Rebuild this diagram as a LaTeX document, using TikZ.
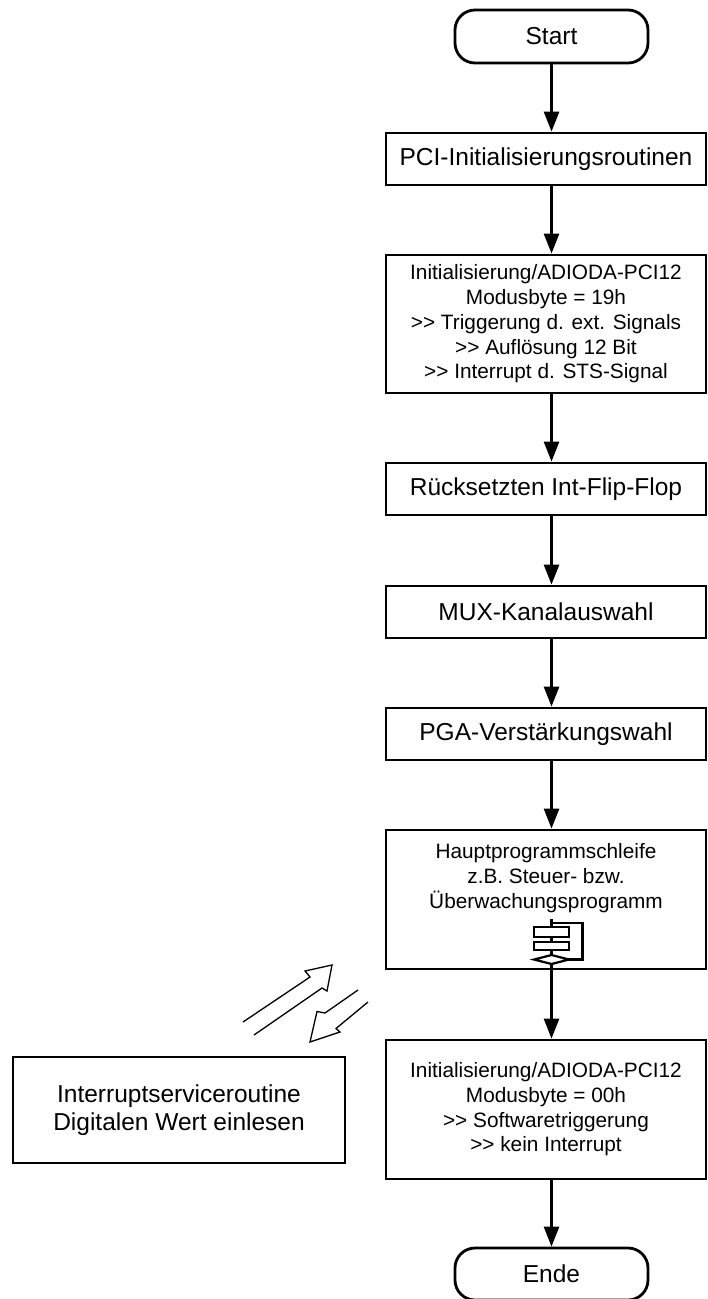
\documentclass[tikz,border=0pt]{standalone}
\usepackage{fontspec}
\setmainfont{Liberation Sans}
\usetikzlibrary{arrows.meta}
\begin{document}
\begin{tikzpicture}[x=1pt,y=-1pt,
  box/.style={draw, line width=2.8pt, rectangle, inner sep=0pt, align=center, minimum width=320pt, minimum height=52pt},
  term/.style={draw, line width=2.8pt, rounded corners=20pt, inner sep=0pt, minimum width=193pt, minimum height=53pt},
  big/.style={font=\fontsize{24.5}{28.5}\selectfont},
  small/.style={font=\fontsize{20.8}{24.7}\selectfont},
  arr/.style={line width=2.8pt, -{Triangle[length=20pt,width=15pt]}},
  hollow/.style={line width=1.3pt, line join=miter},
  icon/.style={line width=2.2pt},
]
\useasboundingbox (0,0) rectangle (708,1299);

\node[term, big] (start) at (551.5,36.5) {Start};
\node[box, big] (pci) at (546,159) {PCI-Initialisierungsroutinen};
\node[box, small, minimum height=138pt] (init1) at (546,324)
  {Initialisierung/ADIODA-PCI12\\Modusbyte = 19h\\>{}> Triggerung d. ext. Signals\\>{}> Aufl\"osung 12 Bit\\>{}> Interrupt d. STS-Signal};
\node[box, big] (reset) at (546,489) {R\"ucksetzten Int-Flip-Flop};
\node[box, big] (mux) at (546,612) {MUX-Kanalauswahl};
\node[box, big] (pga) at (546,734) {PGA-Verst\"arkungswahl};
\node[box, minimum height=139pt] (haupt) at (546,899.5) {};
\node[small, align=center, inner sep=0pt] (haupttext) at (546,878)
  {Hauptprogrammschleife\\z.B. Steuer- bzw.\\\"Uberwachungsprogramm};
\node[box, small, minimum height=139pt] (init2) at (546,1109.5)
  {Initialisierung/ADIODA-PCI12\\Modusbyte = 00h\\>{}> Softwaretriggerung\\>{}> kein Interrupt};
\node[term, big, minimum height=52pt] (ende) at (551.5,1274) {Ende};
\node[box, big, align=center, minimum width=332pt, minimum height=106pt] (isr) at (179,1110)
  {Interruptserviceroutine\\Digitalen Wert einlesen};

% loop icon
\coordinate (itop) at (551.5,919);
\draw[icon] (534,927) rectangle (569,937);
\draw[icon] (534,942) rectangle (569,950);
\draw[icon] (534,959.5) -- (551.5,955) -- (569,959.5) -- (551.5,964) -- cycle;
\draw[icon] (itop) -- (551.5,927) (551.5,937) -- (551.5,942) (551.5,950) -- (551.5,955);
\draw[line width=2.6pt] (569,959.5) -- (582.5,959.5) -- (582.5,923) -- (551.5,923);
\draw[line width=2.8pt] (551.5,964) -- (start |- haupt.south);

% connectors
\draw[arr] (start.south) -- (start.south |- pci.north);
\draw[arr] (start |- pci.south) -- (start |- init1.north);
\draw[arr] (start |- init1.south) -- (start |- reset.north);
\draw[arr] (start |- reset.south) -- (start |- mux.north);
\draw[arr] (start |- mux.south) -- (start |- pga.north);
\draw[arr] (start |- pga.south) -- (start |- haupt.north);
\draw[arr] (start |- haupt.south) -- (start |- init2.north);
\draw[arr] (start |- init2.south) -- (ende.north);

% hollow arrows
\draw[hollow] (243,1022) -- (310,977) -- (305,971) -- (332,965) -- (327,991) -- (322,988) -- (254,1035);
\draw[hollow] (358,990) -- (325,1013) -- (317,1011.5) -- (310,1042) -- (340,1032) -- (336,1028.5) -- (368,1002);
\end{tikzpicture}
\end{document}
